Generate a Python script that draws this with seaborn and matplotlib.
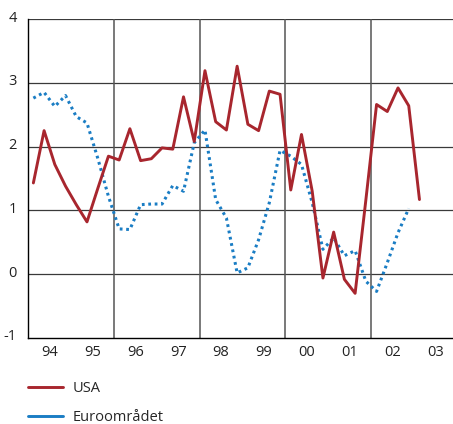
import numpy as np
import pandas as pd
import matplotlib
matplotlib.use("Agg")
import matplotlib.pyplot as plt
import matplotlib.transforms as mtransforms
from matplotlib.lines import Line2D
import seaborn as sns

# Quarterly observations, 1994 Q1 onwards
usa = [1.43, 2.25, 1.72, 1.38, 1.09, 0.82, 1.34, 1.85,
       1.79, 2.28, 1.78, 1.81, 1.98, 1.96, 2.78, 2.08,
       3.19, 2.39, 2.26, 3.26, 2.35, 2.25, 2.87, 2.82,
       1.32, 2.19, 1.30, -0.06, 0.66, -0.08, -0.30, 1.16,
       2.66, 2.55, 2.92, 2.64, 1.17]
euro = [2.76, 2.85, 2.63, 2.80, 2.47, 2.37, 1.82, 1.22,
        0.71, 0.70, 1.09, 1.10, 1.10, 1.39, 1.30, 2.06,
        2.26, 1.17, 0.88, 0.02, 0.10, 0.54, 1.12, 1.94,
        1.85, 1.72, 1.12, 0.39, 0.57, 0.29, 0.37, -0.11,
        -0.27, 0.18, 0.65, 1.03]
year_labels = ["94", "95", "96", "97", "98", "99", "00", "01", "02", "03"]
y_ticks = [-1, 0, 1, 2, 3, 4]
series_names = ["USA", "Euroområdet"]

RED = "#A8262E"
BLUE = "#1A7DC4"
GRID = "#3a3a3a"

def quarter_pos(n):
    return 1994 + (np.arange(n) + 0.5) / 4.0

df = pd.concat([
    pd.DataFrame({"t": quarter_pos(len(usa)), "v": usa, "s": series_names[0]}),
    pd.DataFrame({"t": quarter_pos(len(euro)), "v": euro, "s": series_names[1]}),
])

sns.set_style("white")
plt.rcParams["font.family"] = ["Open Sans", "DejaVu Sans"]

fig = plt.figure(figsize=(4.53, 4.24), dpi=100)
ax = fig.add_axes([28 / 453, 86 / 424, 1 - 28 / 453, (338 - 19) / 424])

# horizontal grid
for yv in y_ticks[1:]:
    ax.axhline(yv, color=GRID, lw=0.9, zorder=1)
# vertical separators every second year
for xv in [1996, 1998, 2000, 2002]:
    ax.axvline(xv, color="#555555", lw=1.1, zorder=1)

sns.lineplot(data=df[df.s == series_names[0]], x="t", y="v", ax=ax,
             color=RED, lw=2.1, zorder=3, legend=False)
sns.lineplot(data=df[df.s == series_names[1]], x="t", y="v", ax=ax,
             color=BLUE, lw=2.2, zorder=2, legend=False)
ax.lines[-1].set_linestyle((0, (0.9, 1.2)))
ax.lines[-1].set_dash_capstyle("butt")

ax.set_xlim(1994, 1994 + 425 / 42.9)
ax.set_ylim(-1, 4)
ax.set_xlabel("")
ax.set_ylabel("")

for side in ["top", "right"]:
    ax.spines[side].set_visible(False)
ax.spines["left"].set_color("black")
ax.spines["left"].set_linewidth(1.0)
ax.spines["bottom"].set_color("black")
ax.spines["bottom"].set_linewidth(1.0)

ax.set_yticks(y_ticks)
ax.set_yticklabels([str(v) for v in y_ticks], fontsize=10.5, color="#222222")
ax.tick_params(axis="y", length=0, pad=8)
offset = mtransforms.ScaledTranslation(0, 3 / 100, fig.dpi_scale_trans)
for lab in ax.get_yticklabels():
    lab.set_transform(lab.get_transform() + offset)

ax.set_xticks([1994.5 + i for i in range(len(year_labels))])
ax.set_xticklabels(year_labels, fontsize=10.5, color="#222222")
ax.tick_params(axis="x", which="major", length=0, pad=5)
ax.set_xticks([1995 + i for i in range(9)], minor=True)
ax.tick_params(axis="x", which="minor", direction="in", length=8,
               width=1.0, color="#333333")

handles = [Line2D([0], [0], color=RED, lw=2.1),
           Line2D([0], [0], color=BLUE, lw=2.1)]
fig.legend(handles, series_names, loc="upper left",
           bbox_to_anchor=(22 / 453, 1 - 375 / 424), frameon=False,
           fontsize=10.5, handlelength=2.4, handletextpad=0.7,
           labelspacing=0.95, borderaxespad=0)

fig.savefig("out.png", dpi=100)
